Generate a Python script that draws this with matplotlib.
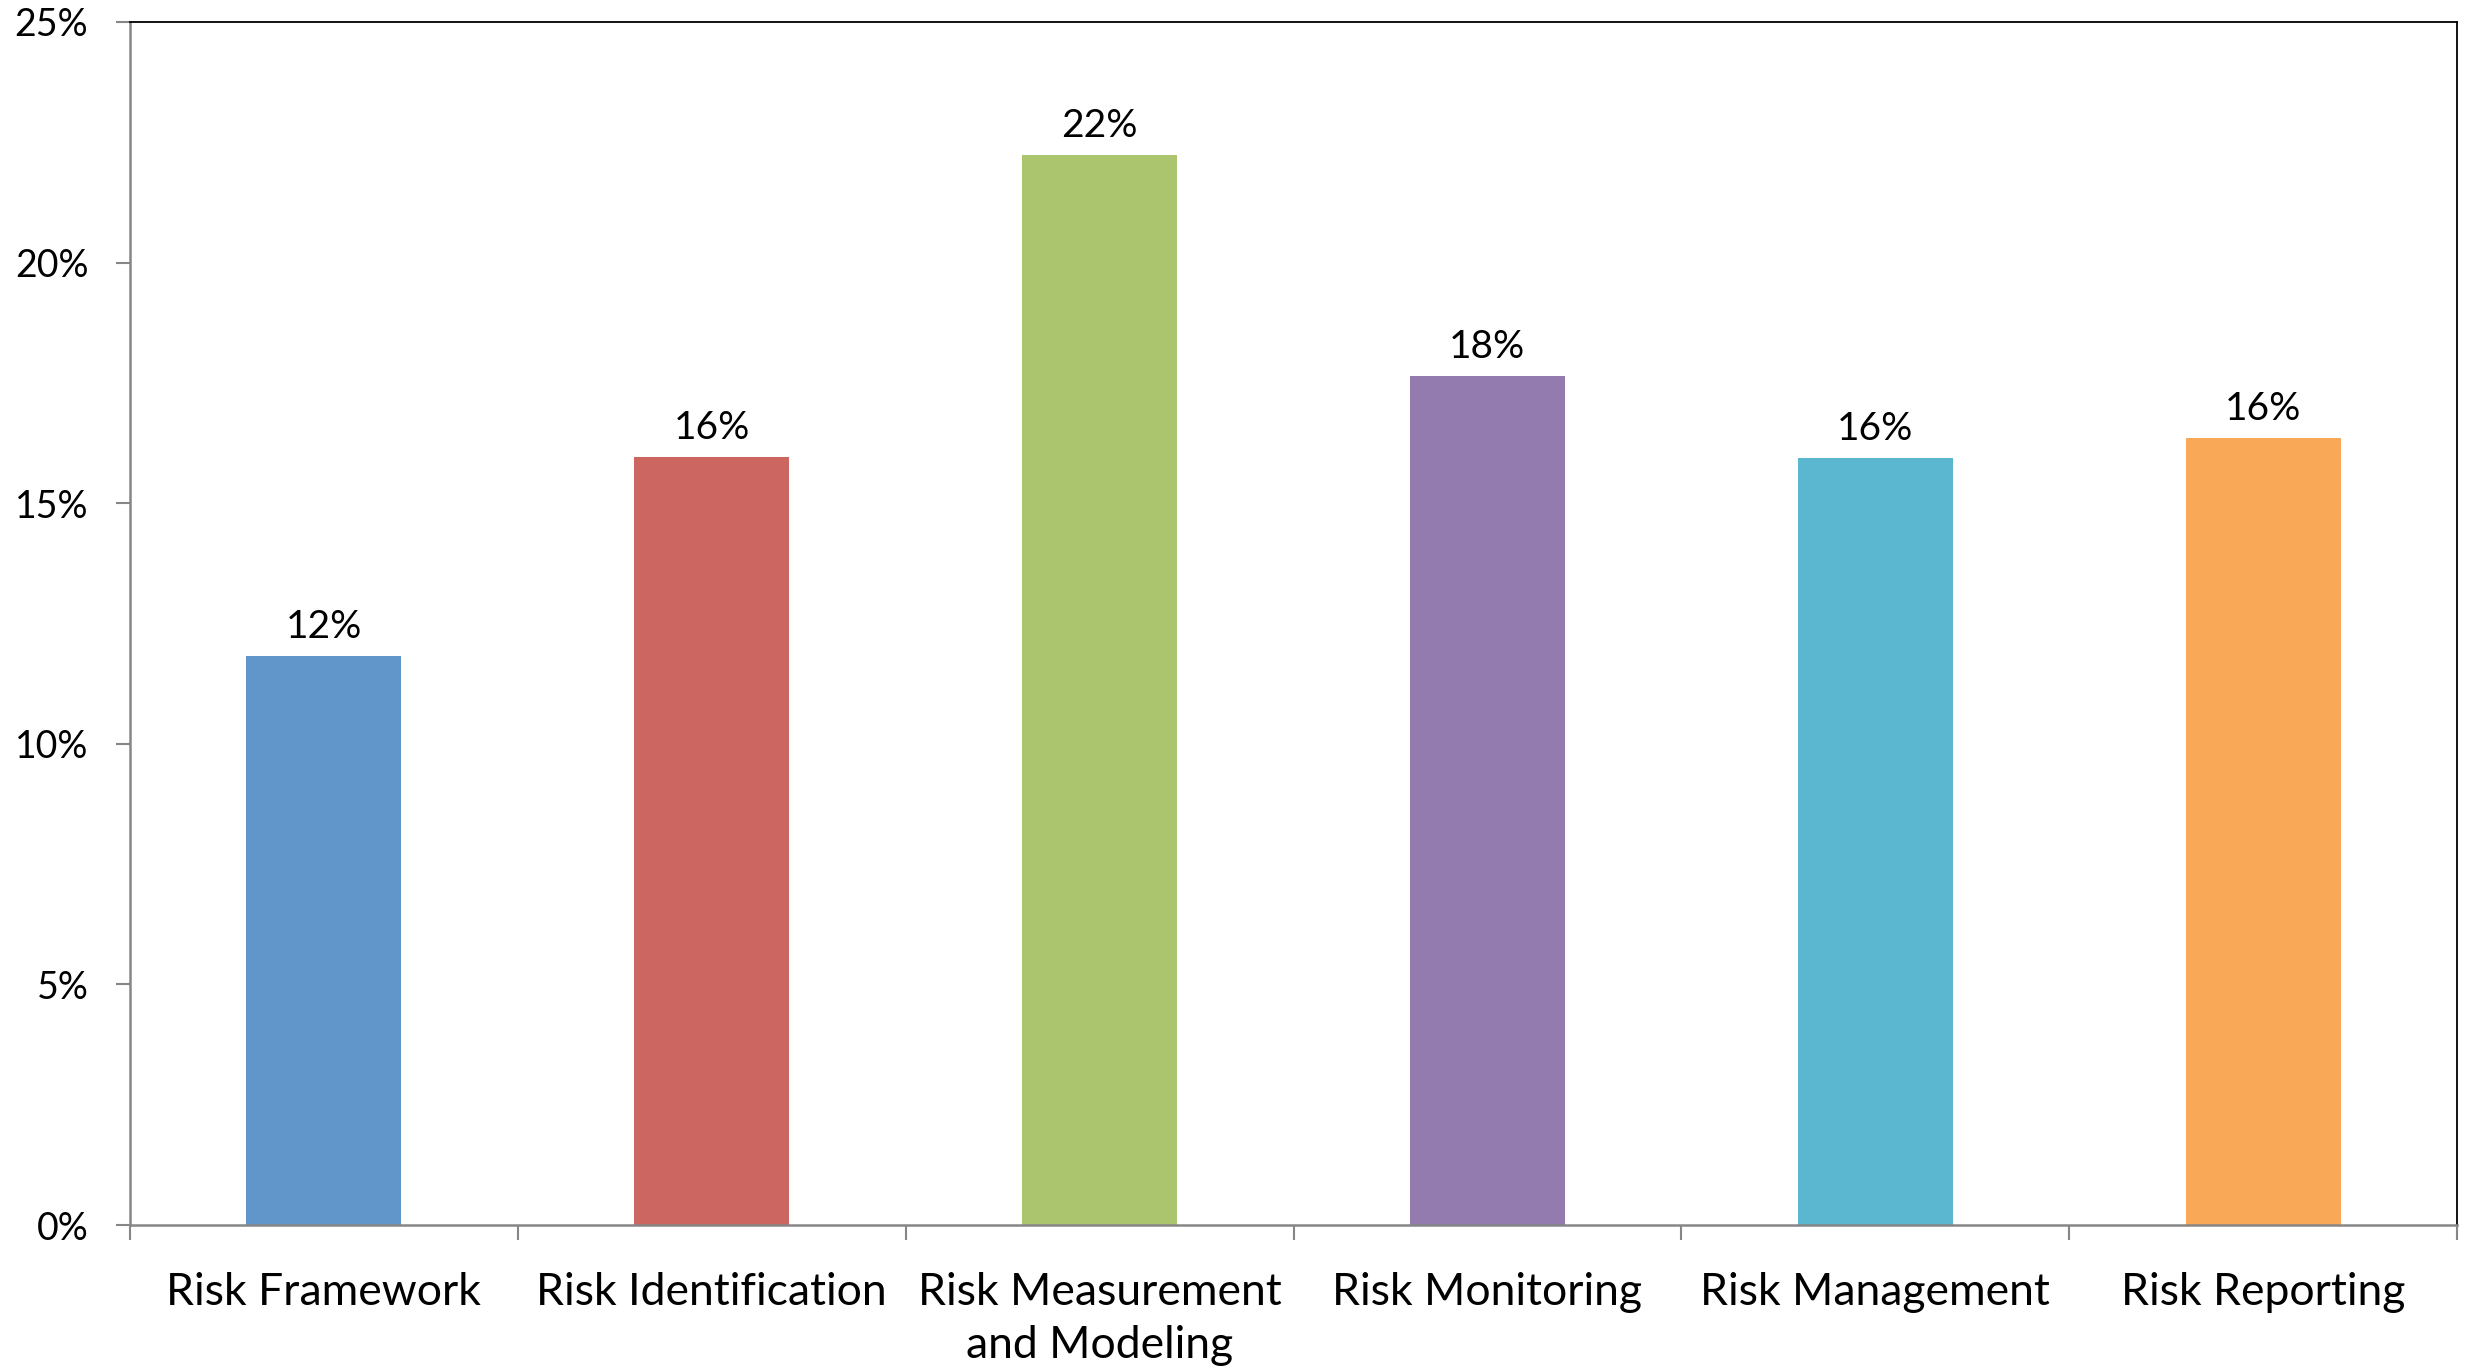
import matplotlib
matplotlib.use("Agg")
import matplotlib.pyplot as plt
from matplotlib.ticker import FuncFormatter, MultipleLocator

# share of findings by risk area
categories = ["Risk Framework", "Risk Identification", "Risk Measurement\nand Modeling",
              "Risk Monitoring", "Risk Management", "Risk Reporting"]
shares = [0.1182, 0.1596, 0.2224, 0.1764, 0.1593, 0.1635]
bar_colors = ["#6096C9", "#CC6660", "#ABC46E", "#937BB0", "#5BB7CF", "#F9A857"]

plt.rcParams['font.family'] = ['Lato', 'DejaVu Sans']

fig = plt.figure(figsize=(24.68, 13.67), dpi=100)
ax = fig.add_axes([130 / 2468, (1367 - 1225) / 1367, (2457 - 130) / 2468, (1225 - 22) / 1367])

x = range(len(categories))
bars = ax.bar(x, shares, width=0.40, color=bar_colors, zorder=2)

for rect, val in zip(bars, shares):
    ax.annotate(f"{val:.0%}", (rect.get_x() + rect.get_width() / 2, val),
                xytext=(0, 8), textcoords="offset points",
                ha="center", va="bottom", fontsize=28, color="black")

ax.set_xlim(-0.5, len(categories) - 0.5)
ax.set_ylim(0, 0.25)
ax.yaxis.set_major_locator(MultipleLocator(0.05))
ax.yaxis.set_major_formatter(FuncFormatter(lambda v, p: f"{v:.0%}"))

# category labels centred, tick marks on the boundaries between them
ax.set_xticks(list(x))
ax.set_xticklabels(categories, fontsize=32, linespacing=1.35)
ax.set_xticks([i - 0.5 for i in range(len(categories) + 1)], minor=True)
ax.tick_params(axis="x", which="major", length=0, pad=34)
ax.tick_params(axis="x", which="minor", length=11, width=1.5, color="#868686", direction="out")
ax.tick_params(axis="y", length=10, width=1.5, color="#868686", labelsize=27, pad=20)

for side in ("left", "bottom"):
    ax.spines[side].set_color("#868686")
    ax.spines[side].set_linewidth(1.8)
for side in ("top", "right"):
    ax.spines[side].set_color("black")
    ax.spines[side].set_linewidth(1.3)

fig.savefig("out.png", dpi=100)
